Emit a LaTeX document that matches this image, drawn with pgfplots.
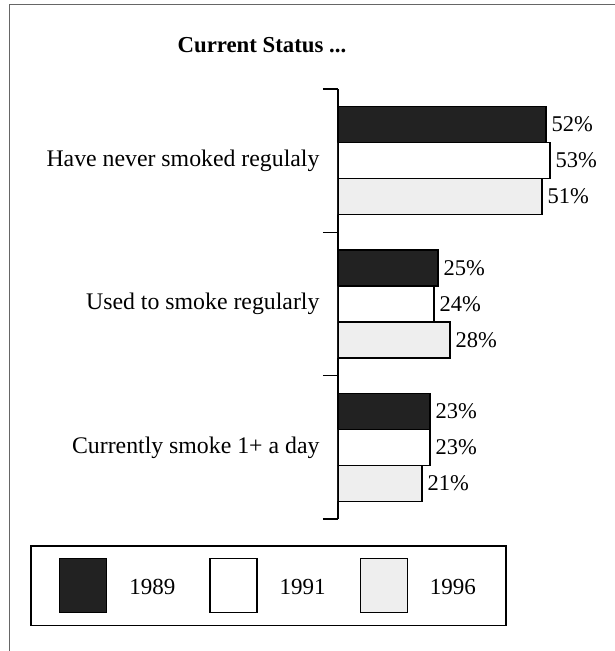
\documentclass[border=0pt]{standalone}
\usepackage{fontspec}
\setmainfont{Liberation Serif}
\usepackage{pgfplots}
\pgfplotsset{compat=1.18}
\definecolor{darkbar}{HTML}{222222}
\definecolor{lightbar}{HTML}{EEEEEE}
\begin{document}
\begin{tikzpicture}[x=1pt,y=1pt]
\draw[black!60, line width=1pt] (9,-30) -- (9,646) -- (660,646);
\begin{axis}[
  at={(338pt,132pt)}, anchor=south west,
  scale only axis, width=240pt, height=430pt,
  xmin=0, xmax=60,
  ymin=-0.5, ymax=2.5,
  xbar=0pt, bar width=36pt,
  axis x line=none, axis y line=left,
  y axis line style={-, line width=1.3pt},
  ytick={0,1,2},
  yticklabels={Currently smoke 1+ a day, Used to smoke regularly, Have never smoked regulaly},
  major tick length=0pt,
  minor ytick={-0.5,0.5,1.5,2.5},
  minor tick length=15pt,
  tick align=outside,
  minor tick style={line width=1.3pt, black},
  yticklabel style={font=\fontsize{23.8}{28}\selectfont, xshift=-15pt},
  point meta=x,
  nodes near coords={\pgfmathprintnumber{\pgfplotspointmeta}\%},
  nodes near coords align=horizontal,
  every node near coord/.append style={font=\fontsize{22.5}{26}\selectfont, black, inner xsep=5pt},
  /pgf/number format/assume math mode=true,
  title={Current Status ...},
  title style={at={(axis description cs:-0.3167,1.088)}, anchor=center, font=\bfseries\fontsize{22.8}{27}\selectfont},
  legend columns=3,
  reverse legend,
  legend cell align=left,
  legend style={at={(axis description cs:-0.2896,-0.1547)}, anchor=center, draw=black, line width=1.3pt,
    inner xsep=28pt, inner ysep=12pt, font=\fontsize{23}{27}\selectfont,
    /tikz/every odd column/.append style={column sep=20pt},
    /tikz/every even column/.append style={column sep=32pt}},
  legend image code/.code={\draw[#1, line width=1.3pt] (0pt,-25pt) rectangle (47pt,29pt);},
]
\addplot[draw=black, line width=1.3pt, fill=lightbar] coordinates {(21,0) (28,1) (51,2)};
\addlegendentry{1996}
\addplot[draw=black, line width=1.3pt, fill=white] coordinates {(23,0) (24,1) (53,2)};
\addlegendentry{1991}
\addplot[draw=black, line width=1.3pt, fill=darkbar] coordinates {(23,0) (25,1) (52,2)};
\addlegendentry{1989}
\end{axis}
\pgfresetboundingbox
\path[use as bounding box] (0,0) rectangle (614,651);
\end{tikzpicture}
\end{document}
